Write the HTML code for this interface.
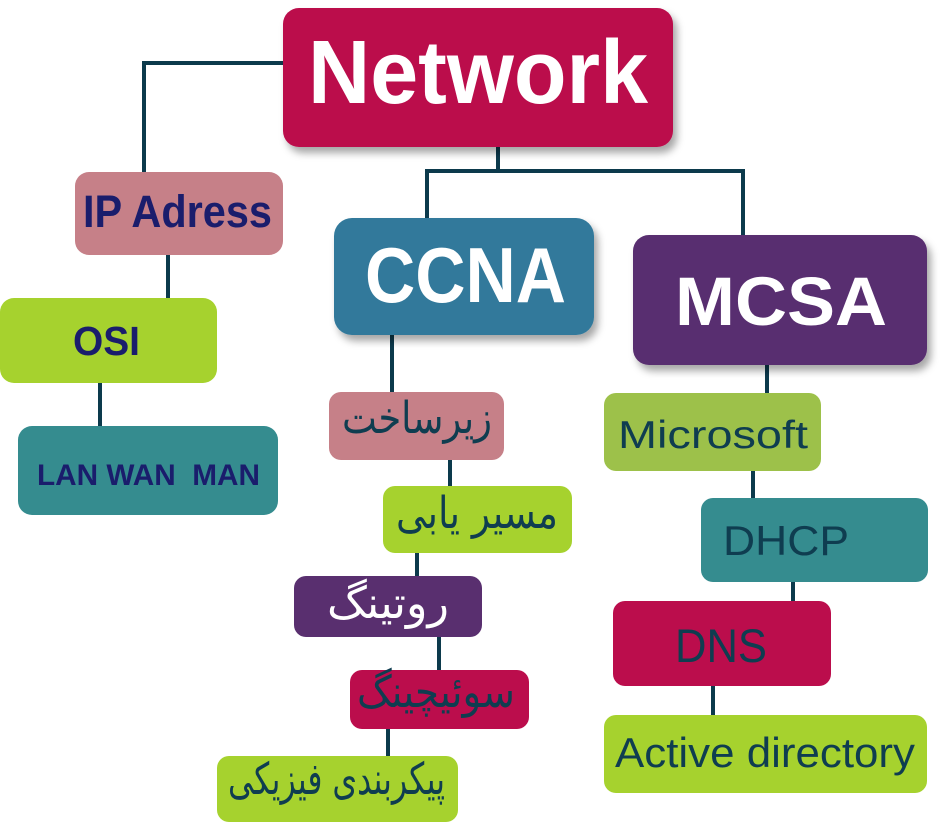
<!DOCTYPE html>
<html>
<head>
<meta charset="utf-8">
<style>
html,body{margin:0;padding:0;background:#fff;}
svg{display:block;}
text{font-family:"Liberation Sans","DejaVu Sans",sans-serif;}
.b{font-weight:bold;}
.fa{font-family:"DejaVu Sans","Liberation Sans",sans-serif;}
</style>
</head>
<body>
<svg width="949" height="823" viewBox="0 0 949 823" xmlns="http://www.w3.org/2000/svg">
<defs>
<filter id="sh" x="-10%" y="-10%" width="130%" height="140%">
<feDropShadow dx="4" dy="6" stdDeviation="4" flood-color="#000" flood-opacity="0.35"/>
</filter>
</defs>
<g stroke="#0c3a4c" stroke-width="4" fill="none">
<polyline points="285,63 144,63 144,174"/>
<line x1="168" y1="254" x2="168" y2="300"/>
<line x1="100" y1="382" x2="100" y2="428"/>
<line x1="498" y1="146" x2="498" y2="171"/>
<polyline points="427,220 427,171 743,171 743,237"/>
<line x1="392" y1="334" x2="392" y2="394"/>
<line x1="450" y1="459" x2="450" y2="488"/>
<line x1="417" y1="552" x2="417" y2="578"/>
<line x1="439" y1="636" x2="439" y2="672"/>
<line x1="388" y1="728" x2="388" y2="758"/>
<line x1="767" y1="364" x2="767" y2="395"/>
<line x1="753" y1="470" x2="753" y2="500"/>
<line x1="793" y1="581" x2="793" y2="603"/>
<line x1="713" y1="685" x2="713" y2="717"/>
</g>

<rect x="283" y="8" width="390" height="139" rx="16" fill="#bb0d4c" filter="url(#sh)"/>
<rect x="334" y="218" width="260" height="117" rx="18" fill="#30799b" filter="url(#sh)"/>
<rect x="633" y="235" width="294" height="130" rx="16" fill="#592f6f" filter="url(#sh)"/>

<rect x="75" y="172" width="208" height="83" rx="14" fill="#c68088"/>
<rect x="0" y="298" width="217" height="85" rx="14" fill="#a6d22e"/>
<rect x="18" y="426" width="260" height="89" rx="14" fill="#358c8f"/>

<rect x="329" y="392" width="175" height="68" rx="12" fill="#c68088"/>
<rect x="383" y="486" width="189" height="67" rx="12" fill="#a6d22e"/>
<rect x="294" y="576" width="188" height="61" rx="12" fill="#592f6f"/>
<rect x="350" y="670" width="179" height="59" rx="12" fill="#bb0d4c"/>
<rect x="217" y="756" width="241" height="66" rx="12" fill="#a6d22e"/>

<rect x="604" y="393" width="217" height="78" rx="12" fill="#9dc14a"/>
<rect x="701" y="498" width="227" height="84" rx="12" fill="#358c8f"/>
<rect x="613" y="601" width="218" height="85" rx="12" fill="#bb0d4c"/>
<rect x="604" y="715" width="323" height="78" rx="12" fill="#a6d22e"/>

<text class="b" x="478" y="103" font-size="90" fill="#fff" text-anchor="middle" textLength="340" lengthAdjust="spacingAndGlyphs">Network</text>
<text class="b" x="177.5" y="227" font-size="45" fill="#1a1d6c" text-anchor="middle" textLength="189" lengthAdjust="spacingAndGlyphs">IP Adress</text>
<text class="b" x="106.5" y="355" font-size="41" fill="#1a1d6c" text-anchor="middle" textLength="67" lengthAdjust="spacingAndGlyphs">OSI</text>
<text class="b" x="148.5" y="485" font-size="30" fill="#1a1d6c" text-anchor="middle" textLength="223" lengthAdjust="spacingAndGlyphs" xml:space="preserve">LAN WAN  MAN</text>
<text class="b" x="465.5" y="302" font-size="78" fill="#fff" text-anchor="middle" textLength="201" lengthAdjust="spacingAndGlyphs">CCNA</text>
<text class="b" x="781" y="325" font-size="69" fill="#fff" text-anchor="middle" textLength="212" lengthAdjust="spacingAndGlyphs">MCSA</text>

<text x="713" y="448" font-size="39" fill="#0f3d50" text-anchor="middle" textLength="190" lengthAdjust="spacingAndGlyphs">Microsoft</text>
<text x="786" y="555" font-size="42" fill="#0f3d50" text-anchor="middle" textLength="126" lengthAdjust="spacingAndGlyphs">DHCP</text>
<text x="721" y="662" font-size="47" fill="#0f3d50" text-anchor="middle" textLength="92" lengthAdjust="spacingAndGlyphs">DNS</text>
<text x="765" y="767" font-size="42" fill="#0f3d50" text-anchor="middle" textLength="300" lengthAdjust="spacingAndGlyphs">Active directory</text>

<text class="fa" x="417" y="433" font-size="44" fill="#0f3d50" text-anchor="middle" textLength="150" lengthAdjust="spacingAndGlyphs">زیرساخت</text>
<text class="fa" x="477" y="528" font-size="44" fill="#0f3d50" text-anchor="middle" textLength="162" lengthAdjust="spacingAndGlyphs">مسیر یابی</text>
<text class="fa" x="388" y="618" font-size="44" fill="#fff" text-anchor="middle" textLength="122" lengthAdjust="spacingAndGlyphs">روتینگ</text>
<text class="fa" x="436" y="707" font-size="44" fill="#0f3d50" text-anchor="middle" textLength="158" lengthAdjust="spacingAndGlyphs">سوئیچینگ</text>
<text class="fa" x="336.5" y="794" font-size="44" fill="#0f3d50" text-anchor="middle" textLength="217" lengthAdjust="spacingAndGlyphs">پیکربندی فیزیکی</text>
</svg>
</body>
</html>
